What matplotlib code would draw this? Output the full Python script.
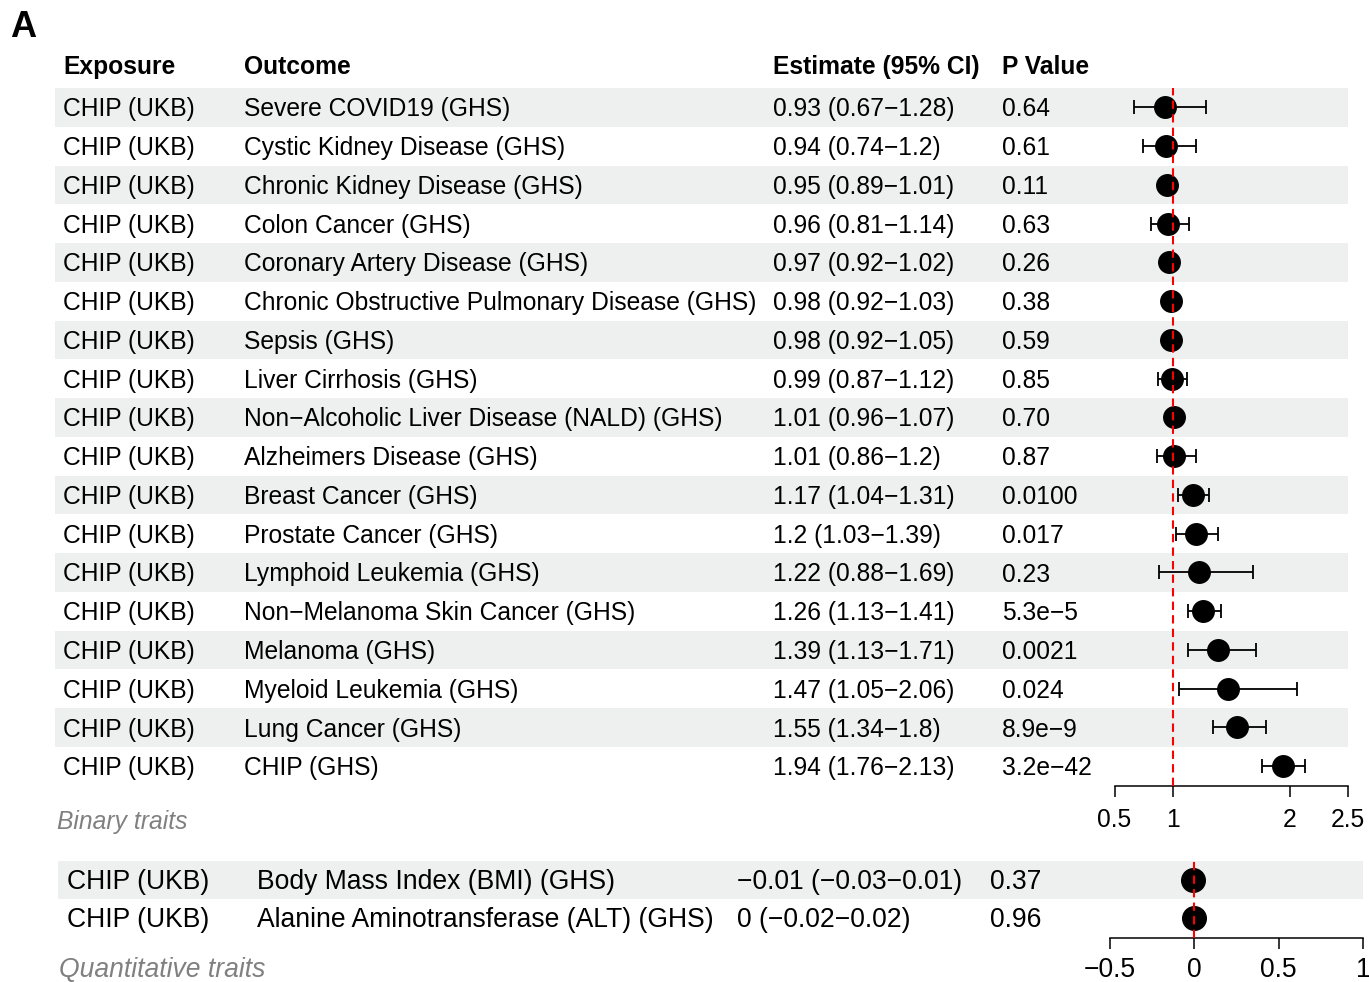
import numpy as np
import matplotlib.pyplot as plt
from matplotlib.patches import Rectangle

plt.rcParams['font.family'] = ['Liberation Sans', 'DejaVu Sans']

# binary traits
exposure_bin = ["CHIP (UKB)"] * 18
outcome_bin = ["Severe COVID19 (GHS)", "Cystic Kidney Disease (GHS)", "Chronic Kidney Disease (GHS)",
               "Colon Cancer (GHS)", "Coronary Artery Disease (GHS)",
               "Chronic Obstructive Pulmonary Disease (GHS)", "Sepsis (GHS)", "Liver Cirrhosis (GHS)",
               "Non\u2212Alcoholic Liver Disease (NALD) (GHS)", "Alzheimers Disease (GHS)",
               "Breast Cancer (GHS)", "Prostate Cancer (GHS)", "Lymphoid Leukemia (GHS)",
               "Non\u2212Melanoma Skin Cancer (GHS)", "Melanoma (GHS)", "Myeloid Leukemia (GHS)",
               "Lung Cancer (GHS)", "CHIP (GHS)"]
est_bin = [0.93, 0.94, 0.95, 0.96, 0.97, 0.98, 0.98, 0.99, 1.01, 1.01, 1.17, 1.2, 1.22, 1.26, 1.39, 1.47, 1.55, 1.94]
lo_bin = [0.67, 0.74, 0.89, 0.81, 0.92, 0.92, 0.92, 0.87, 0.96, 0.86, 1.04, 1.03, 0.88, 1.13, 1.13, 1.05, 1.34, 1.76]
hi_bin = [1.28, 1.2, 1.01, 1.14, 1.02, 1.03, 1.05, 1.12, 1.07, 1.2, 1.31, 1.39, 1.69, 1.41, 1.71, 2.06, 1.8, 2.13]
p_bin = ["0.64", "0.61", "0.11", "0.63", "0.26", "0.38", "0.59", "0.85", "0.70", "0.87",
         "0.0100", "0.017", "0.23", "5.3e\u22125", "0.0021", "0.024", "8.9e\u22129", "3.2e\u221242"]
ticks_bin = [0.5, 1, 2, 2.5]

# quantitative traits
exposure_q = ["CHIP (UKB)", "CHIP (UKB)"]
outcome_q = ["Body Mass Index (BMI) (GHS)", "Alanine Aminotransferase (ALT) (GHS)"]
est_q = [-0.01, 0.0]
lo_q = [-0.03, -0.02]
hi_q = [0.01, 0.02]
p_q = ["0.37", "0.96"]
ticks_q = [-0.5, 0, 0.5, 1]


def fmt(v):
    return f"{v:g}".replace("-", "\u2212")


def est_text(e, l, h):
    return f"{fmt(e)} ({fmt(l)}\u2212{fmt(h)})"


W, H = 1369, 982
fig = plt.figure(figsize=(W / 100, H / 100), dpi=100)
bg = fig.add_axes([0, 0, 1, 1])
bg.set_xlim(0, W)
bg.set_ylim(H, 0)
bg.axis('off')

band = '#eef0ef'
fs = 17.7
dy = 2  # small downward nudge for row text

bg.text(10, 27, "A", fontsize=26, fontweight='bold', va='center', ha='left')

# ---- binary table ----
cols_b = [63, 244, 773, 1002]
heads = ["Exposure", "Outcome", "Estimate (95% CI)", "P Value"]
for x, h in zip(cols_b, heads):
    bg.text(x, 65 + dy, h, fontsize=fs, fontweight='bold', va='center', ha='left')

top_b, pitch_b = 88, 38.76
n_b = len(outcome_bin)
for i in range(n_b):
    yc = top_b + pitch_b * (i + 0.5)
    if i % 2 == 0:
        bg.add_patch(Rectangle((55, top_b + pitch_b * i), 1348 - 55, pitch_b, color=band, lw=0, zorder=0))
    row = [exposure_bin[i], outcome_bin[i], est_text(est_bin[i], lo_bin[i], hi_bin[i]), p_bin[i]]
    for x, t in zip(cols_b, row):
        bg.text(x, yc + dy, t, fontsize=fs, va='center', ha='left')

bg.text(57, 820 + dy, "Binary traits", fontsize=fs, style='italic', color='#808080', va='center', ha='left')

ax1 = fig.add_axes([1114.5 / W, 1 - 786 / H, (1348 - 1114.5) / W, (786 - top_b) / H])
ax1.patch.set_alpha(0)
yb = np.arange(n_b)
xerr = [np.array(est_bin) - np.array(lo_bin), np.array(hi_bin) - np.array(est_bin)]
ax1.errorbar(est_bin, yb, xerr=xerr, fmt='none', ecolor='black', elinewidth=1.3, capsize=5, capthick=1.3, zorder=2)
ax1.plot(est_bin, yb, 'o', color='black', markersize=15.5, zorder=3)
ax1.axvline(1, color='red', ls=(0, (4, 2.5)), lw=1.5, zorder=4)
ax1.set_xlim(0.5, 2.5)
ax1.set_ylim(n_b - 1 + (786 - 766) / pitch_b, -0.5)
ax1.set_xticks(ticks_bin)
ax1.set_xticklabels([fmt(t) for t in ticks_bin], fontsize=fs)
ax1.set_yticks([])
for s in ['top', 'right', 'left']:
    ax1.spines[s].set_visible(False)
ax1.spines['bottom'].set_linewidth(1.1)
ax1.tick_params(axis='x', length=8, width=1.1, pad=7.5)

# ---- quantitative table ----
cols_q = [67, 257, 737, 990]
fs_q = 19.1
top_q, pitch_q = 861, 38.0
n_q = len(outcome_q)
for i in range(n_q):
    yc = top_q + pitch_q * (i + 0.5)
    if i % 2 == 0:
        bg.add_patch(Rectangle((58, top_q + pitch_q * i), 1363 - 58, pitch_q, color=band, lw=0, zorder=0))
    row = [exposure_q[i], outcome_q[i], est_text(est_q[i], lo_q[i], hi_q[i]), p_q[i]]
    for x, t in zip(cols_q, row):
        bg.text(x, yc + dy, t, fontsize=fs_q, va='center', ha='left')

bg.text(59, 970, "Quantitative traits", fontsize=fs_q, style='italic', color='#808080', va='center', ha='left')

ax2 = fig.add_axes([1110 / W, 1 - 938 / H, (1363 - 1110) / W, (938 - top_q) / H])
ax2.patch.set_alpha(0)
yq = np.arange(n_q)
xerr_q = [np.array(est_q) - np.array(lo_q), np.array(hi_q) - np.array(est_q)]
ax2.errorbar(est_q, yq, xerr=xerr_q, fmt='none', ecolor='black', elinewidth=1.3, capsize=5, capthick=1.3, zorder=2)
ax2.plot(est_q, yq, 'o', color='black', markersize=17, zorder=3)
ax2.axvline(0, color='red', ls=(0, (4, 2.5)), lw=1.5, zorder=4)
ax2.set_xlim(-0.5, 1)
ax2.set_ylim(n_q - 1 + (938 - 918) / pitch_q, -0.5)
ax2.set_xticks(ticks_q)
ax2.set_xticklabels([fmt(t) for t in ticks_q], fontsize=fs_q)
ax2.set_yticks([])
for s in ['top', 'right', 'left']:
    ax2.spines[s].set_visible(False)
ax2.spines['bottom'].set_linewidth(1.1)
ax2.tick_params(axis='x', length=8, width=1.1, pad=6)

fig.savefig("out.png", dpi=100)
